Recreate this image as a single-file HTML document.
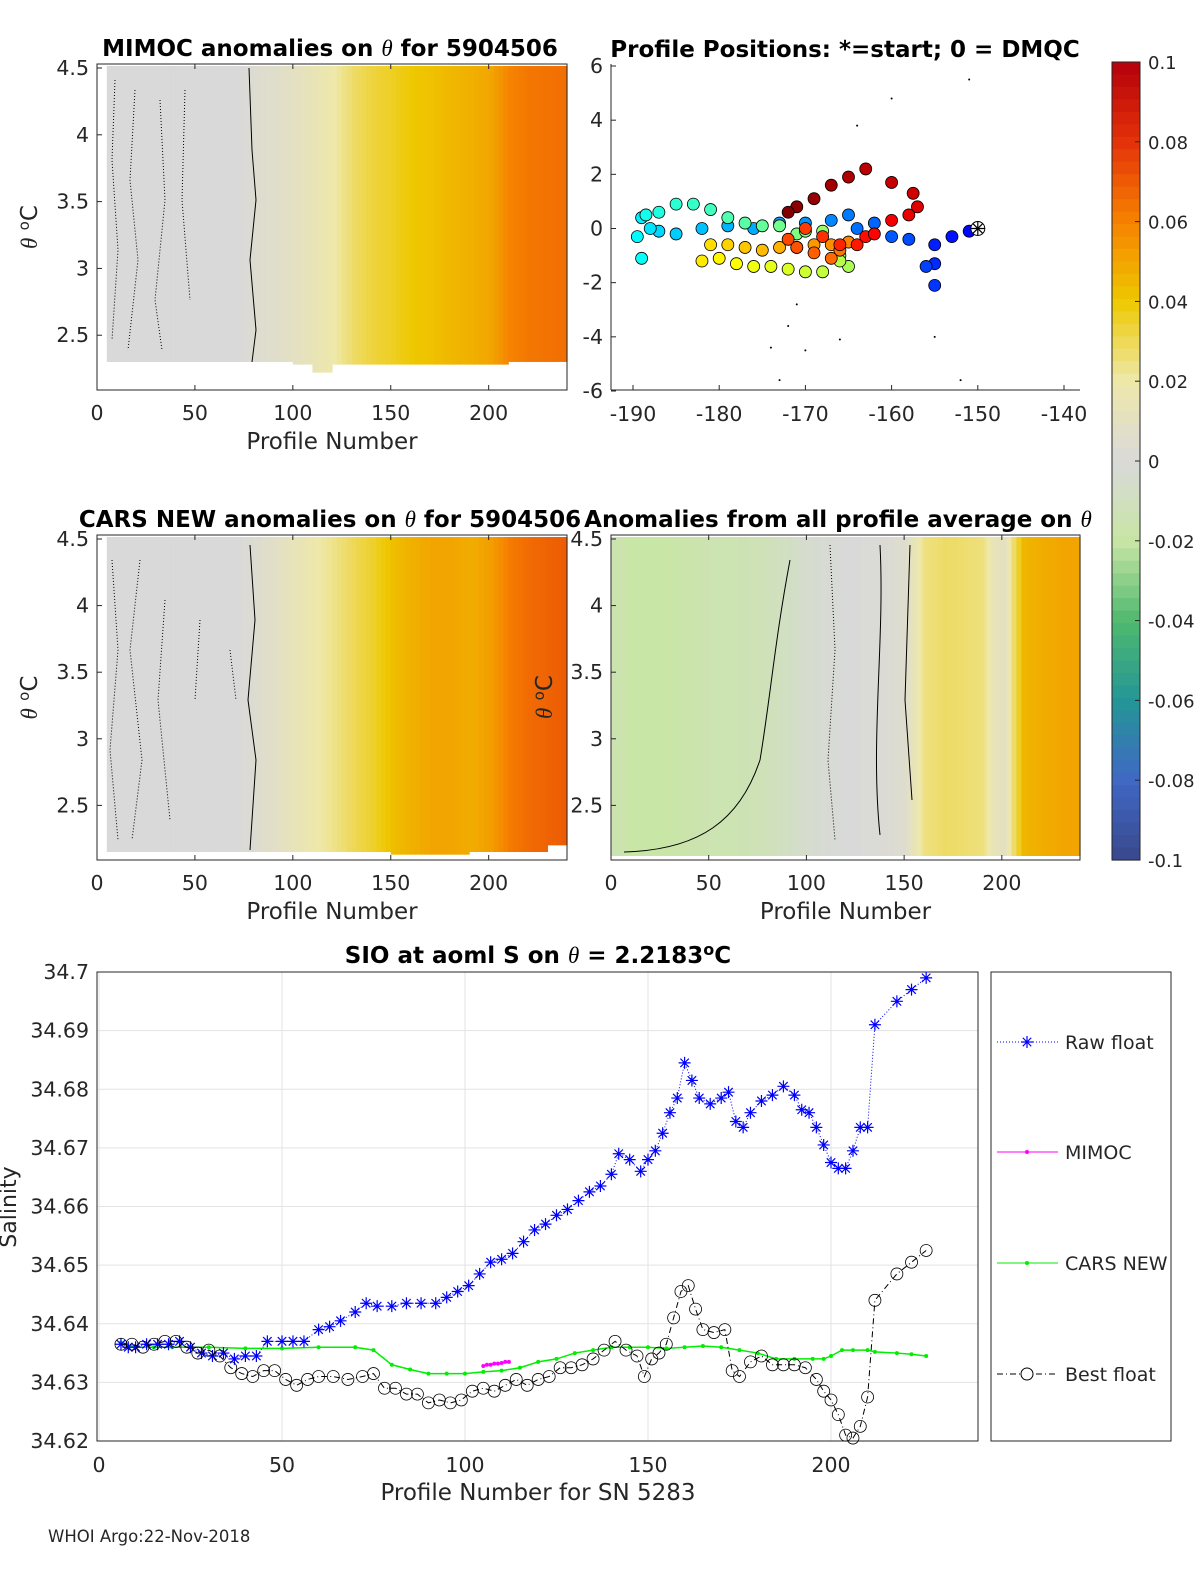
<!DOCTYPE html>
<html><head><meta charset="utf-8"><style>
body{margin:0;background:#fff}
svg{display:block;font-family:"DejaVu Sans","Liberation Sans",sans-serif}
.t{fill:#262626}
.ti{font-size:23px;font-weight:bold;fill:#000}
</style></head><body>
<svg id="fig" width="1200" height="1575" viewBox="0 0 1200 1575" xmlns="http://www.w3.org/2000/svg">
<rect width="1200" height="1575" fill="#fff"/>
<g id="layer"></g>
</svg>
<script>
// ---------- data ----------
const mimocProf=[5,10,20,30,40,50,60,70,76,80,85,90,95,100,110,120,130,140,150,160,170,180,190,200,210,220,230,240];
const mimocVal=[0,0,0,0,0,0,0,0,0.001,0.004,0.005,0.006,0.008,0.01,0.015,0.02,0.028,0.033,0.036,0.04,0.042,0.045,0.047,0.05,0.06,0.063,0.064,0.065];
const mimocBot=[2.3,2.3,2.3,2.3,2.3,2.3,2.3,2.3,2.3,2.3,2.3,2.3,2.3,2.28,2.22,2.28,2.28,2.28,2.28,2.28,2.28,2.28,2.28,2.28,2.3,2.3,2.3,2.3];
const carsProf=[5,10,20,30,40,50,60,70,78,82,90,100,110,120,130,140,150,160,170,180,190,200,210,220,230,240];
const carsVal=[0,0,0,0,0,0,0,0,0.002,0.005,0.008,0.014,0.019,0.024,0.03,0.035,0.043,0.047,0.05,0.05,0.048,0.052,0.062,0.066,0.068,0.07];
const carsBot=[2.15,2.15,2.15,2.15,2.15,2.15,2.15,2.15,2.15,2.15,2.15,2.15,2.15,2.15,2.15,2.15,2.13,2.13,2.13,2.13,2.15,2.15,2.15,2.15,2.2,2.2];
const avgProf=[0,5,10,20,30,40,50,60,70,80,90,100,110,120,125,130,140,150,155,160,170,180,190,195,200,210,220,230,240];
const avgVal=[-0.015,-0.017,-0.02,-0.02,-0.019,-0.017,-0.015,-0.015,-0.014,-0.012,-0.008,-0.004,-0.002,0,0,0.001,0.002,0.005,0.015,0.025,0.028,0.027,0.025,0.015,0.01,0.045,0.048,0.05,0.05];
// profile positions
const posLon=[-150,-151,-153,-155,-155,-155,-156,-158,-160,-162,-164,-165,-167,-170,-173,-176,-179,-182,-185,-187,-188,-189,-189.5,-189,-188.5,-187,-185,-183,-181,-179,-177,-175,-173,-171,-170,-168,-166,-165,-166,-168,-170,-172,-174,-176,-178,-180,-182,-181,-179,-177,-175,-173,-171,-169,-167,-165,-166,-167,-169,-171,-172,-170,-168,-166,-164,-163,-162,-160,-158,-157,-157.5,-160,-163,-165,-167,-169,-171,-172];
const posLat=[0,-0.1,-0.3,-0.6,-1.3,-2.1,-1.4,-0.4,-0.3,0.2,0,0.5,0.3,0.2,0.2,0,0.1,0,-0.2,-0.1,0,0.4,-0.3,-1.1,0.5,0.6,0.9,0.9,0.7,0.4,0.2,0.1,0.1,-0.2,-0.1,-0.1,-1.0,-1.4,-1.2,-1.6,-1.6,-1.5,-1.4,-1.4,-1.3,-1.1,-1.2,-0.6,-0.6,-0.7,-0.8,-0.7,-0.7,-0.6,-0.6,-0.5,-0.8,-1.1,-0.9,-0.7,-0.4,0,-0.3,-0.6,-0.6,-0.3,-0.2,0.3,0.5,0.8,1.3,1.7,2.2,1.9,1.6,1.1,0.8,0.6];
// bottom chart
const rawX=[6,8,10,13,16,19,22,25,28,31,34,37,40,43,46,50,53,56,60,63,66,70,73,76,80,84,88,92,95,98,101,104,107,110,113,116,119,122,125,128,131,134,137,140,142,145,148,150,152,154,156,158,160,162,164,167,170,172,174,176,178,181,184,187,190,192,194,196,198,200,202,204,206,208,210,212,218,222,226];
const rawY=[34.6365,34.636,34.636,34.6365,34.6365,34.6365,34.637,34.636,34.635,34.6345,34.635,34.634,34.6345,34.6345,34.637,34.637,34.637,34.637,34.639,34.6395,34.6405,34.642,34.6435,34.643,34.643,34.6435,34.6435,34.6435,34.6445,34.6455,34.6465,34.6485,34.6505,34.651,34.652,34.654,34.656,34.657,34.6585,34.6595,34.661,34.6625,34.6635,34.6655,34.669,34.668,34.666,34.668,34.6695,34.6725,34.676,34.6785,34.6845,34.6815,34.6785,34.6775,34.6785,34.6795,34.6745,34.6735,34.676,34.678,34.679,34.6805,34.679,34.6765,34.676,34.6735,34.6705,34.6675,34.6665,34.6665,34.6695,34.6735,34.6735,34.691,34.695,34.697,34.699];
const bestX=[6,9,12,15,18,21,24,27,30,33,36,39,42,45,48,51,54,57,60,64,68,72,75,78,81,84,87,90,93,96,99,102,105,108,111,114,117,120,123,126,129,132,135,138,141,144,147,149,151,153,155,157,159,161,163,165,168,171,173,175,178,181,184,187,190,193,196,198,200,202,204,206,208,210,212,218,222,226];
const bestY=[34.6365,34.6365,34.636,34.6365,34.637,34.637,34.636,34.635,34.6355,34.6345,34.6325,34.6315,34.631,34.632,34.632,34.6305,34.6295,34.6305,34.631,34.631,34.6305,34.631,34.6315,34.629,34.629,34.628,34.628,34.6265,34.627,34.6265,34.627,34.6285,34.629,34.6285,34.6295,34.6305,34.6295,34.6305,34.631,34.6325,34.6325,34.633,34.634,34.6355,34.637,34.6355,34.6345,34.631,34.634,34.635,34.6365,34.641,34.6455,34.6465,34.6425,34.639,34.6385,34.639,34.632,34.631,34.6335,34.6345,34.633,34.633,34.633,34.6325,34.6305,34.6285,34.627,34.6245,34.621,34.6205,34.6225,34.6275,34.644,34.6485,34.6505,34.6525];
const carsX=[6,10,15,20,30,40,50,60,70,75,80,85,90,95,100,105,110,115,120,125,130,135,140,145,150,155,160,165,170,175,180,185,190,195,198,200,203,206,210,212,218,222,226];
const carsY=[34.6368,34.636,34.636,34.636,34.636,34.6358,34.6358,34.636,34.636,34.6355,34.633,34.6322,34.6315,34.6315,34.6315,34.6318,34.632,34.6325,34.6335,34.634,34.635,34.6355,34.636,34.636,34.636,34.6358,34.636,34.6362,34.636,34.6355,34.635,34.634,34.634,34.634,34.634,34.6345,34.6355,34.6355,34.6355,34.6352,34.635,34.6348,34.6345];
const mimocX=[105,106,107,108,109,110,111,112];
const mimocY=[34.6328,34.633,34.633,34.6332,34.6332,34.6333,34.6335,34.6335];
const yTicksB=[34.62,34.63,34.64,34.65,34.66,34.67,34.68,34.69,34.7];
const yTickLabB=["34.62","34.63","34.64","34.65","34.66","34.67","34.68","34.69","34.7"];
const xTicksB=[0,50,100,150,200];

// ---------- helpers ----------
const NS="http://www.w3.org/2000/svg";
const L=document.getElementById('layer');
function mk(tag,attrs,parent){const e=document.createElementNS(NS,tag);for(const k in attrs)e.setAttribute(k,attrs[k]);(parent||L).appendChild(e);return e;}
function txt(x,y,s,cls,anchor,extra){
  extra=Object.assign({},extra||{});
  let fs=extra['font-size'];delete extra['font-size'];
  if(!fs&&(cls||'t')==='t')fs='20.5';
  const e=mk('text',Object.assign({x:x,y:y,class:cls||'t','text-anchor':anchor||'middle'},extra));
  if(fs)e.style.fontSize=fs+'px';
  e.textContent=s;return e;}
function star(cx,cy,r,col,g){const p=[];for(let k=0;k<4;k++){const a=k*Math.PI/4;p.push(`M${cx-r*Math.cos(a)},${cy-r*Math.sin(a)}L${cx+r*Math.cos(a)},${cy+r*Math.sin(a)}`);}return mk('path',{d:p.join(''),stroke:col,'stroke-width':1.2,fill:'none'},g);}
const stops=[[-0.1,[58,72,140]],[-0.08,[64,104,196]],[-0.06,[36,150,150]],[-0.04,[80,185,110]],[-0.02,[200,230,165]],[0,[217,217,217]],[0.02,[238,232,170]],[0.04,[238,200,0]],[0.06,[246,130,0]],[0.08,[228,50,10]],[0.1,[180,0,10]]];
function cmap(v){v=Math.max(-0.1,Math.min(0.1,v));for(let i=0;i<stops.length-1;i++){const a=stops[i],b=stops[i+1];if(v<=b[0]){const t=(v-a[0])/(b[0]-a[0]);const c=a[1].map((q,j)=>Math.round(q+(b[1][j]-q)*t));return `rgb(${c[0]},${c[1]},${c[2]})`;}}return 'rgb(180,0,10)';}

// ---------- heatmap panels ----------
function heat(ax,prof,val,bot,name,title,ylab){
  const g=mk('g',{});
  
  
  const sx=p=>ax.x0+(p-0)*(ax.x1-ax.x0)/240;
  const sy=t=>ax.yTop+(4.53-t)*(ax.yBot-ax.yTop)/(4.53-2.09);
  for(let i=0;i<prof.length-1;i++){
    const steps=4;
    for(let s=0;s<steps;s++){
      const p0=prof[i]+(prof[i+1]-prof[i])*s/steps,p1=prof[i]+(prof[i+1]-prof[i])*(s+1)/steps;
      const v=val[i]+(val[i+1]-val[i])*s/steps;
      const r=mk('rect',{x:sx(p0),y:ax.yTop+2,width:sx(p1)-sx(p0)+0.6,height:sy(bot[i])-ax.yTop-2,fill:cmap(v)},g);
      
      
    }
  }
  mk('rect',{x:ax.x0,y:ax.yTop,width:ax.x1-ax.x0,height:ax.yBot-ax.yTop,fill:'none',stroke:'#262626','stroke-width':1},g);
  [0,50,100,150,200].forEach(p=>{mk('line',{x1:sx(p),x2:sx(p),y1:ax.yBot,y2:ax.yBot-5,stroke:'#262626'},g);mk('line',{x1:sx(p),x2:sx(p),y1:ax.yTop,y2:ax.yTop+5,stroke:'#262626'},g);txt(sx(p),ax.yBot+30,String(p));});
  [2.5,3,3.5,4,4.5].forEach(t=>{mk('line',{x1:ax.x0,x2:ax.x0+5,y1:sy(t),y2:sy(t),stroke:'#262626'},g);txt(ax.x0-8,sy(t)+7,String(t),'t','end');});
  txt((ax.x0+ax.x1)/2,ax.yBot+59,'Profile Number','t','middle',{'font-size':'23'});
  const tt=txt(ax.tx,ax.yTop-8,'','ti');tt.innerHTML=title;
  if(ylab){const yl=txt(0,0,'','t','middle',{transform:`translate(${ax.x0-60},${(ax.yTop+ax.yBot)/2}) rotate(-90)`,'font-size':'23'});yl.innerHTML='<tspan font-family="Liberation Serif" font-style="italic">θ</tspan> <tspan font-size="15" dy="-8">o</tspan><tspan dy="8">C</tspan>';}
  return {sx,sy,g};
}
const th='<tspan font-family="Liberation Serif" font-style="italic" font-weight="normal">θ</tspan>';
const p1=heat({x0:97,x1:567,yTop:64,yBot:390,tx:330},mimocProf,mimocVal,mimocBot,'mimoc-anomaly-heatmap','MIMOC anomalies on '+th+'  for 5904506',true);
const p3=heat({x0:97,x1:567,yTop:535,yBot:860,tx:330},carsProf,carsVal,carsBot,'cars-anomaly-heatmap','CARS NEW anomalies on '+th+' for 5904506',true);
const p4=heat({x0:611,x1:1080,yTop:535,yBot:860,tx:838},avgProf,avgVal,avgProf.map(()=>2.12),'average-anomaly-heatmap','Anomalies from all profile average on '+th,false);
{const yl=txt(0,0,'','t','middle',{transform:'translate(552,697) rotate(-90)','font-size':'23'});yl.innerHTML='<tspan font-family="Liberation Serif" font-style="italic">θ</tspan> <tspan font-size="15" dy="-8">o</tspan><tspan dy="8">C</tspan>';}
// contours (approximate)
mk('path',{d:'M249,68 L252,150 L256,200 L250,260 L256,330 L252,362',fill:'none',stroke:'#000','stroke-width':1});
mk('path',{d:'M250,545 L255,620 L248,700 L256,760 L250,850',fill:'none',stroke:'#000','stroke-width':1});
const dots='1,2';
['M115,80 L112,160 L118,250 L112,340','M135,90 L130,180 L138,260 L128,350','M160,100 L165,200 L155,300 L162,350','M185,90 L182,200 L190,300','M112,560 L118,650 L110,750 L118,840','M140,560 L130,650 L142,760 L132,840','M165,600 L158,700 L170,820','M200,620 L195,700','M230,650 L236,700'].forEach(d=>mk('path',{d:d,fill:'none',stroke:'#000','stroke-width':1,'stroke-dasharray':dots}));
mk('path',{d:'M624,852 C700,850 740,820 760,760 C770,700 775,640 790,560',fill:'none',stroke:'#000','stroke-width':1});
mk('path',{d:'M880,545 C885,640 870,740 880,835',fill:'none',stroke:'#000','stroke-width':1});
mk('path',{d:'M910,545 L905,700 L912,800',fill:'none',stroke:'#000','stroke-width':1});
mk('path',{d:'M830,545 L835,650 L828,760 L835,840',fill:'none',stroke:'#000','stroke-width':1,'stroke-dasharray':dots});
// ---------- positions map ----------
{
  const sx=l=>633+(l+190)*(1064-633)/50;
  const sy=a=>66+(6-a)*(391-66)/12;
  const g=mk('g',{});
  
  
  mk('line',{x1:611,x2:611,y1:64,y2:390,stroke:'#262626'},g);
  mk('line',{x1:611,x2:1080,y1:390,y2:390,stroke:'#262626'},g);
  [-190,-180,-170,-160,-150,-140].forEach(l=>{mk('line',{x1:sx(l),x2:sx(l),y1:390,y2:385,stroke:'#262626'},g);txt(sx(l),421,String(l));});
  [-6,-4,-2,0,2,4,6].forEach(a=>{mk('line',{x1:611,x2:616,y1:sy(a),y2:sy(a),stroke:'#262626'},g);txt(603,sy(a)+7,String(a),'t','end');});
  const jet=t=>{const r=Math.min(1,Math.max(0,1.5-Math.abs(4*t-3))),gg=Math.min(1,Math.max(0,1.5-Math.abs(4*t-2))),b=Math.min(1,Math.max(0,1.5-Math.abs(4*t-1)));return `rgb(${Math.round(r*255)},${Math.round(gg*255)},${Math.round(b*255)})`;};
  const n=posLon.length;
  for(let i=0;i<n;i++){
    const c=mk('circle',{cx:sx(posLon[i]),cy:sy(posLat[i]),r:6,fill:jet(0.12+0.88*i/(n-1)),stroke:'#000','stroke-width':0.8},g);
    
    
  }
  mk('circle',{cx:sx(-150),cy:sy(0),r:7,fill:'#fff',stroke:'#000'},g);
  star(sx(-150),sy(0),7,'#000',g);
  [[-151,5.5],[-160,4.8],[-164,3.8],[-171,-2.8],[-172,-3.6],[-174,-4.4],[-166,-4.1],[-155,-4.0],[-173,-5.6],[-152,-5.6],[-170,-4.5]].forEach(q=>mk('circle',{cx:sx(q[0]),cy:sy(q[1]),r:1,fill:'#000'},g));
  txt(845,57,'Profile Positions: *=start; 0 = DMQC','ti');
}
// ---------- colorbar ----------
{
  const g=mk('g',{});
  
  
  const n=64;
  for(let i=0;i<n;i++){const v=0.1-(i+0.5)*0.2/n;mk('rect',{x:1112,y:62+i*798/n,width:28,height:798/n+0.6,fill:cmap(v)},g);}
  mk('rect',{x:1112,y:62,width:28,height:798,fill:'none',stroke:'#262626'},g);
  const labs=['0.1','0.08','0.06','0.04','0.02','0','-0.02','-0.04','-0.06','-0.08','-0.1'];
  labs.forEach((s,i)=>{const y=62+i*79.8;mk('line',{x1:1135,x2:1140,y1:y,y2:y,stroke:'#262626'},g);txt(1148,y+7,s,'t','start',{'font-size':'18'});});
}
// ---------- bottom chart ----------
{
  const x0=97,x1=978,y0=972,y1=1441;
  const sx=p=>99+p*(282-99)/50;
  const sy=v=>972+(34.7-v)*(1441-972)/0.08;
  const g=mk('g',{});
  
  
  mk('rect',{x:x0,y:y0,width:x1-x0,height:y1-y0,fill:'#fff',stroke:'#262626'},g);
  xTicksB.forEach(p=>{mk('line',{x1:sx(p),x2:sx(p),y1:y0,y2:y1,stroke:'#e3e3e3'},g);txt(sx(p),1472,String(p));});
  yTicksB.forEach((v,i)=>{mk('line',{x1:x0,x2:x1,y1:sy(v),y2:sy(v),stroke:'#e3e3e3'},g);txt(89,sy(v)+7,yTickLabB[i],'t','end');});
  mk('rect',{x:x0,y:y0,width:x1-x0,height:y1-y0,fill:'none',stroke:'#262626'},g);
  const pts=(X,Y)=>X.map((x,i)=>sx(x)+','+sy(Y[i])).join(' ');
  const cl=mk('polyline',{points:pts(carsX,carsY),fill:'none',stroke:'#00ee00','stroke-width':1.5},g);
  
  carsX.forEach((x,i)=>mk('circle',{cx:sx(x),cy:sy(carsY[i]),r:2,fill:'#00ee00'},g));
  const ml=mk('polyline',{points:pts(mimocX,mimocY),fill:'none',stroke:'#ff00ff','stroke-width':1.5},g);
  
  mimocX.forEach((x,i)=>mk('circle',{cx:sx(x),cy:sy(mimocY[i]),r:2,fill:'#ff00ff'},g));
  const rl=mk('polyline',{points:pts(rawX,rawY),fill:'none',stroke:'#0000ff','stroke-width':1,'stroke-dasharray':'1,2'},g);
  
  rawX.forEach((x,i)=>star(sx(x),sy(rawY[i]),6,'#0000ff',g));
  const bl=mk('polyline',{points:pts(bestX,bestY),fill:'none',stroke:'#000','stroke-width':1,'stroke-dasharray':'6,3,1,3'},g);
  
  bestX.forEach((x,i)=>mk('circle',{cx:sx(x),cy:sy(bestY[i]),r:6,fill:'none',stroke:'#000','stroke-width':0.8},g));
  const tt=txt(538,963,'','ti');tt.innerHTML='SIO at aoml S on '+th+' = 2.2183<tspan font-size="16" dy="-8">o</tspan><tspan dy="8">C</tspan>';
  txt(538,1500,'Profile Number for SN 5283','t','middle',{'font-size':'23'});
  txt(0,0,'Salinity','t','middle',{transform:'translate(16,1207) rotate(-90)','font-size':'22'});
  const lg=mk('g',{});
  
  
  mk('rect',{x:991,y:972,width:180,height:469,fill:'#fff',stroke:'#262626'},lg);
  const ent=[['Raw float',1042,'#0000ff','1,2'],['MIMOC',1152,'#ff00ff',''],['CARS NEW',1263,'#00ee00',''],['Best float',1374,'#000','6,3,1,3']];
  ent.forEach(e=>{
    mk('line',{x1:997,x2:1058,y1:e[1],y2:e[1],stroke:e[2],'stroke-dasharray':e[3]},lg);
    if(e[0]==='Raw float')star(1027,e[1],6,'#0000ff',lg);
    else if(e[0]==='Best float')mk('circle',{cx:1027,cy:e[1],r:6,fill:'#fff',stroke:'#000'},lg);
    else mk('circle',{cx:1027,cy:e[1],r:2,fill:e[2]},lg);
    txt(1065,e[1]+7,e[0],'t','start',{'font-size':'19'});
  });
}
txt(48,1542,'WHOI Argo:22-Nov-2018','t','start',{'font-size':'16.5'});
</script>
</body></html>
